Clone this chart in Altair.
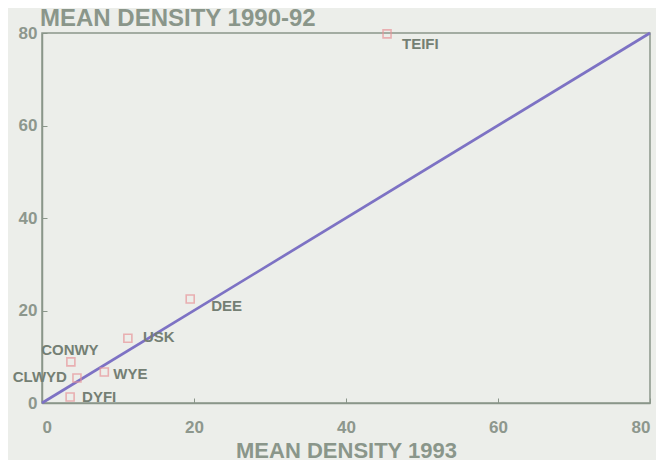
import altair as alt
import pandas as pd

rivers = ["TEIFI", "DEE", "USK", "CONWY", "CLWYD", "WYE", "DYFI"]
density_1993 = [45.4, 19.5, 11.3, 3.8, 4.6, 8.2, 3.7]
density_1990_92 = [79.8, 22.5, 14.0, 8.9, 5.4, 6.7, 1.3]

line_x = [0, 80]
line_y = [0, 80]
ticks = [0, 20, 40, 60, 80]

df = pd.DataFrame({"river": rivers, "x": density_1993, "y": density_1990_92})
ldf = pd.DataFrame({"x": line_x, "y": line_y})

TITLE = "#8a968a"
TICKTXT = "#8d978d"
LABEL = "#747f74"
AXIS = "#8a968a"
FONT = "Liberation Sans"

xs = alt.Scale(domain=[0, 80], nice=False, zero=True)
ys = alt.Scale(domain=[0, 80], nice=False, zero=True)

xax = alt.Axis(values=ticks, title="MEAN DENSITY 1993", grid=False,
               tickSize=alt.ExprRef("-5"), labelPadding=21, tickColor=AXIS,
               domainColor=AXIS, labelColor=TICKTXT, titleColor=TITLE,
               labelFont=FONT, titleFont=FONT, labelFontSize=17,
               titleFontSize=22, titleFontWeight="bold", titlePadding=5,
               labelFontWeight="bold")
yax = alt.Axis(values=ticks, title=None, grid=False,
               tickSize=alt.ExprRef("-5"), labelPadding=10, tickColor=AXIS,
               domainColor=AXIS, labelColor=TICKTXT, labelFont=FONT,
               labelFontSize=17, labelFontWeight="bold")

base = alt.Chart(df)

line = alt.Chart(ldf).mark_line(color="#7d72c4", strokeWidth=2.7).encode(
    x=alt.X("x:Q", scale=xs, axis=xax),
    y=alt.Y("y:Q", scale=ys, axis=yax),
)

points = base.mark_point(shape="square", filled=False, color="#e8959a",
                         size=64, strokeWidth=1.6).encode(
    x=alt.X("x:Q", scale=xs),
    y=alt.Y("y:Q", scale=ys),
)

def labels(names, align, dx, dy):
    return base.transform_filter(
        alt.FieldOneOfPredicate(field="river", oneOf=names)
    ).mark_text(align=align, dx=dx, dy=dy, font=FONT, fontSize=15,
                fontWeight="bold", color=LABEL).encode(
        x=alt.X("x:Q", scale=xs),
        y=alt.Y("y:Q", scale=ys),
        text="river:N",
    )

chart = alt.layer(
    line,
    points,
    labels(["TEIFI"], "left", 15, 10),
    labels(["DEE"], "left", 21, 7),
    labels(["USK"], "left", 15, -1),
    labels(["WYE"], "left", 9, 2),
    labels(["DYFI"], "left", 12, 0),
    labels(["CONWY"], "center", -1, -12),
    labels(["CLWYD"], "right", -10, -1),
).properties(
    width=608,
    height=370,
    title=alt.TitleParams("MEAN DENSITY 1990-92", anchor="start", frame="group",
                          font=FONT, fontSize=24, fontWeight="bold",
                          color=TITLE, offset=6, dx=-2, dy=13),
    autosize=alt.AutoSizeParams(type="none"),
    padding={"left": 34, "top": 25, "right": 6, "bottom": 57},
    background="#eceeea",
).configure_view(stroke=AXIS, strokeWidth=1.5).configure_axis(domainWidth=1.5)

chart.save("out.html", embed_options={"renderer": "svg", "actions": False})
